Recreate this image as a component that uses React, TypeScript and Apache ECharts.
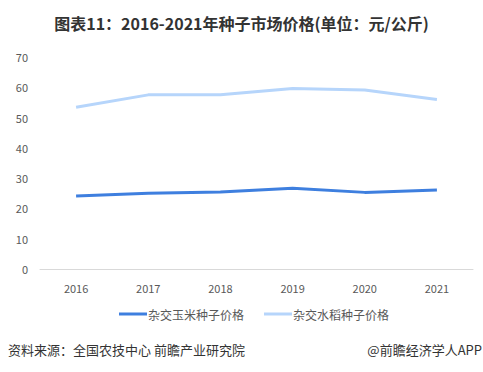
import React, { useEffect, useRef } from "react";
import * as echarts from "echarts";

const categories = ["2016", "2017", "2018", "2019", "2020", "2021"];
const cornPrices = [24.1, 25.0, 25.4, 26.7, 25.3, 26.1];
const ricePrices = [53.4, 57.5, 57.5, 59.6, 59.1, 56.0];
const seriesNames = ["杂交玉米种子价格", "杂交水稻种子价格"];
const yTicks = { min: 0, max: 70, interval: 10 };

export default function App() {
  const ref = useRef<HTMLDivElement>(null);
  useEffect(() => {
    if (!ref.current) return;
    const chart = echarts.init(ref.current, undefined, { renderer: "svg" });
    const font = '"Microsoft YaHei", "Noto Sans CJK SC", sans-serif';
    chart.setOption({
      animation: false,
      backgroundColor: "#ffffff",
      title: {
        text: "图表11：2016-2021年种子市场价格(单位：元/公斤)",
        left: "center",
        top: 10,
        textStyle: { fontSize: 16, fontWeight: "bold", color: "#333333", fontFamily: font },
      },
      legend: {
        top: 303,
        left: 114,
        itemWidth: 28,
        itemHeight: 3,
        itemGap: 20,
        icon: "rect",
        textStyle: { fontSize: 12, color: "#595959", fontFamily: font, padding: [0, 0, 0, -4] },
        data: seriesNames,
      },
      grid: { left: 40, right: 10, top: 57, bottom: 103, containLabel: false },
      xAxis: {
        type: "category",
        data: categories,
        boundaryGap: true,
        axisLine: { lineStyle: { color: "#d9d9d9" } },
        axisTick: { show: false },
        axisLabel: { color: "#595959", fontSize: 11, margin: 13, fontFamily: font },
      },
      yAxis: {
        type: "value",
        min: yTicks.min,
        max: yTicks.max,
        interval: yTicks.interval,
        axisLine: { show: false },
        axisTick: { show: false },
        splitLine: { show: false },
        axisLabel: { color: "#595959", fontSize: 11, margin: 12, fontFamily: font },
      },
      graphic: [
        {
          type: "text",
          left: 8,
          top: 343,
          style: { text: "资料来源：全国农技中心 前瞻产业研究院", fill: "#333333", fontSize: 13, fontFamily: font },
        },
        {
          type: "text",
          right: 1,
          top: 343,
          style: { text: "@前瞻经济学人APP", fill: "#333333", fontSize: 13, fontFamily: font },
        },
      ],
      series: [
        {
          name: seriesNames[0],
          type: "line",
          data: cornPrices,
          symbol: "none",
          smooth: false,
          lineStyle: { width: 3, color: "#3e7fdf", join: "round" },
          itemStyle: { color: "#3e7fdf" },
        },
        {
          name: seriesNames[1],
          type: "line",
          data: ricePrices,
          symbol: "none",
          smooth: false,
          lineStyle: { width: 3, color: "#b6d5fb", join: "round" },
          itemStyle: { color: "#b6d5fb" },
        },
      ],
    });
    return () => chart.dispose();
  }, []);
  return <div ref={ref} style={{ position: "fixed", left: 0, top: 0, width: 483, height: 372 }} />;
}
